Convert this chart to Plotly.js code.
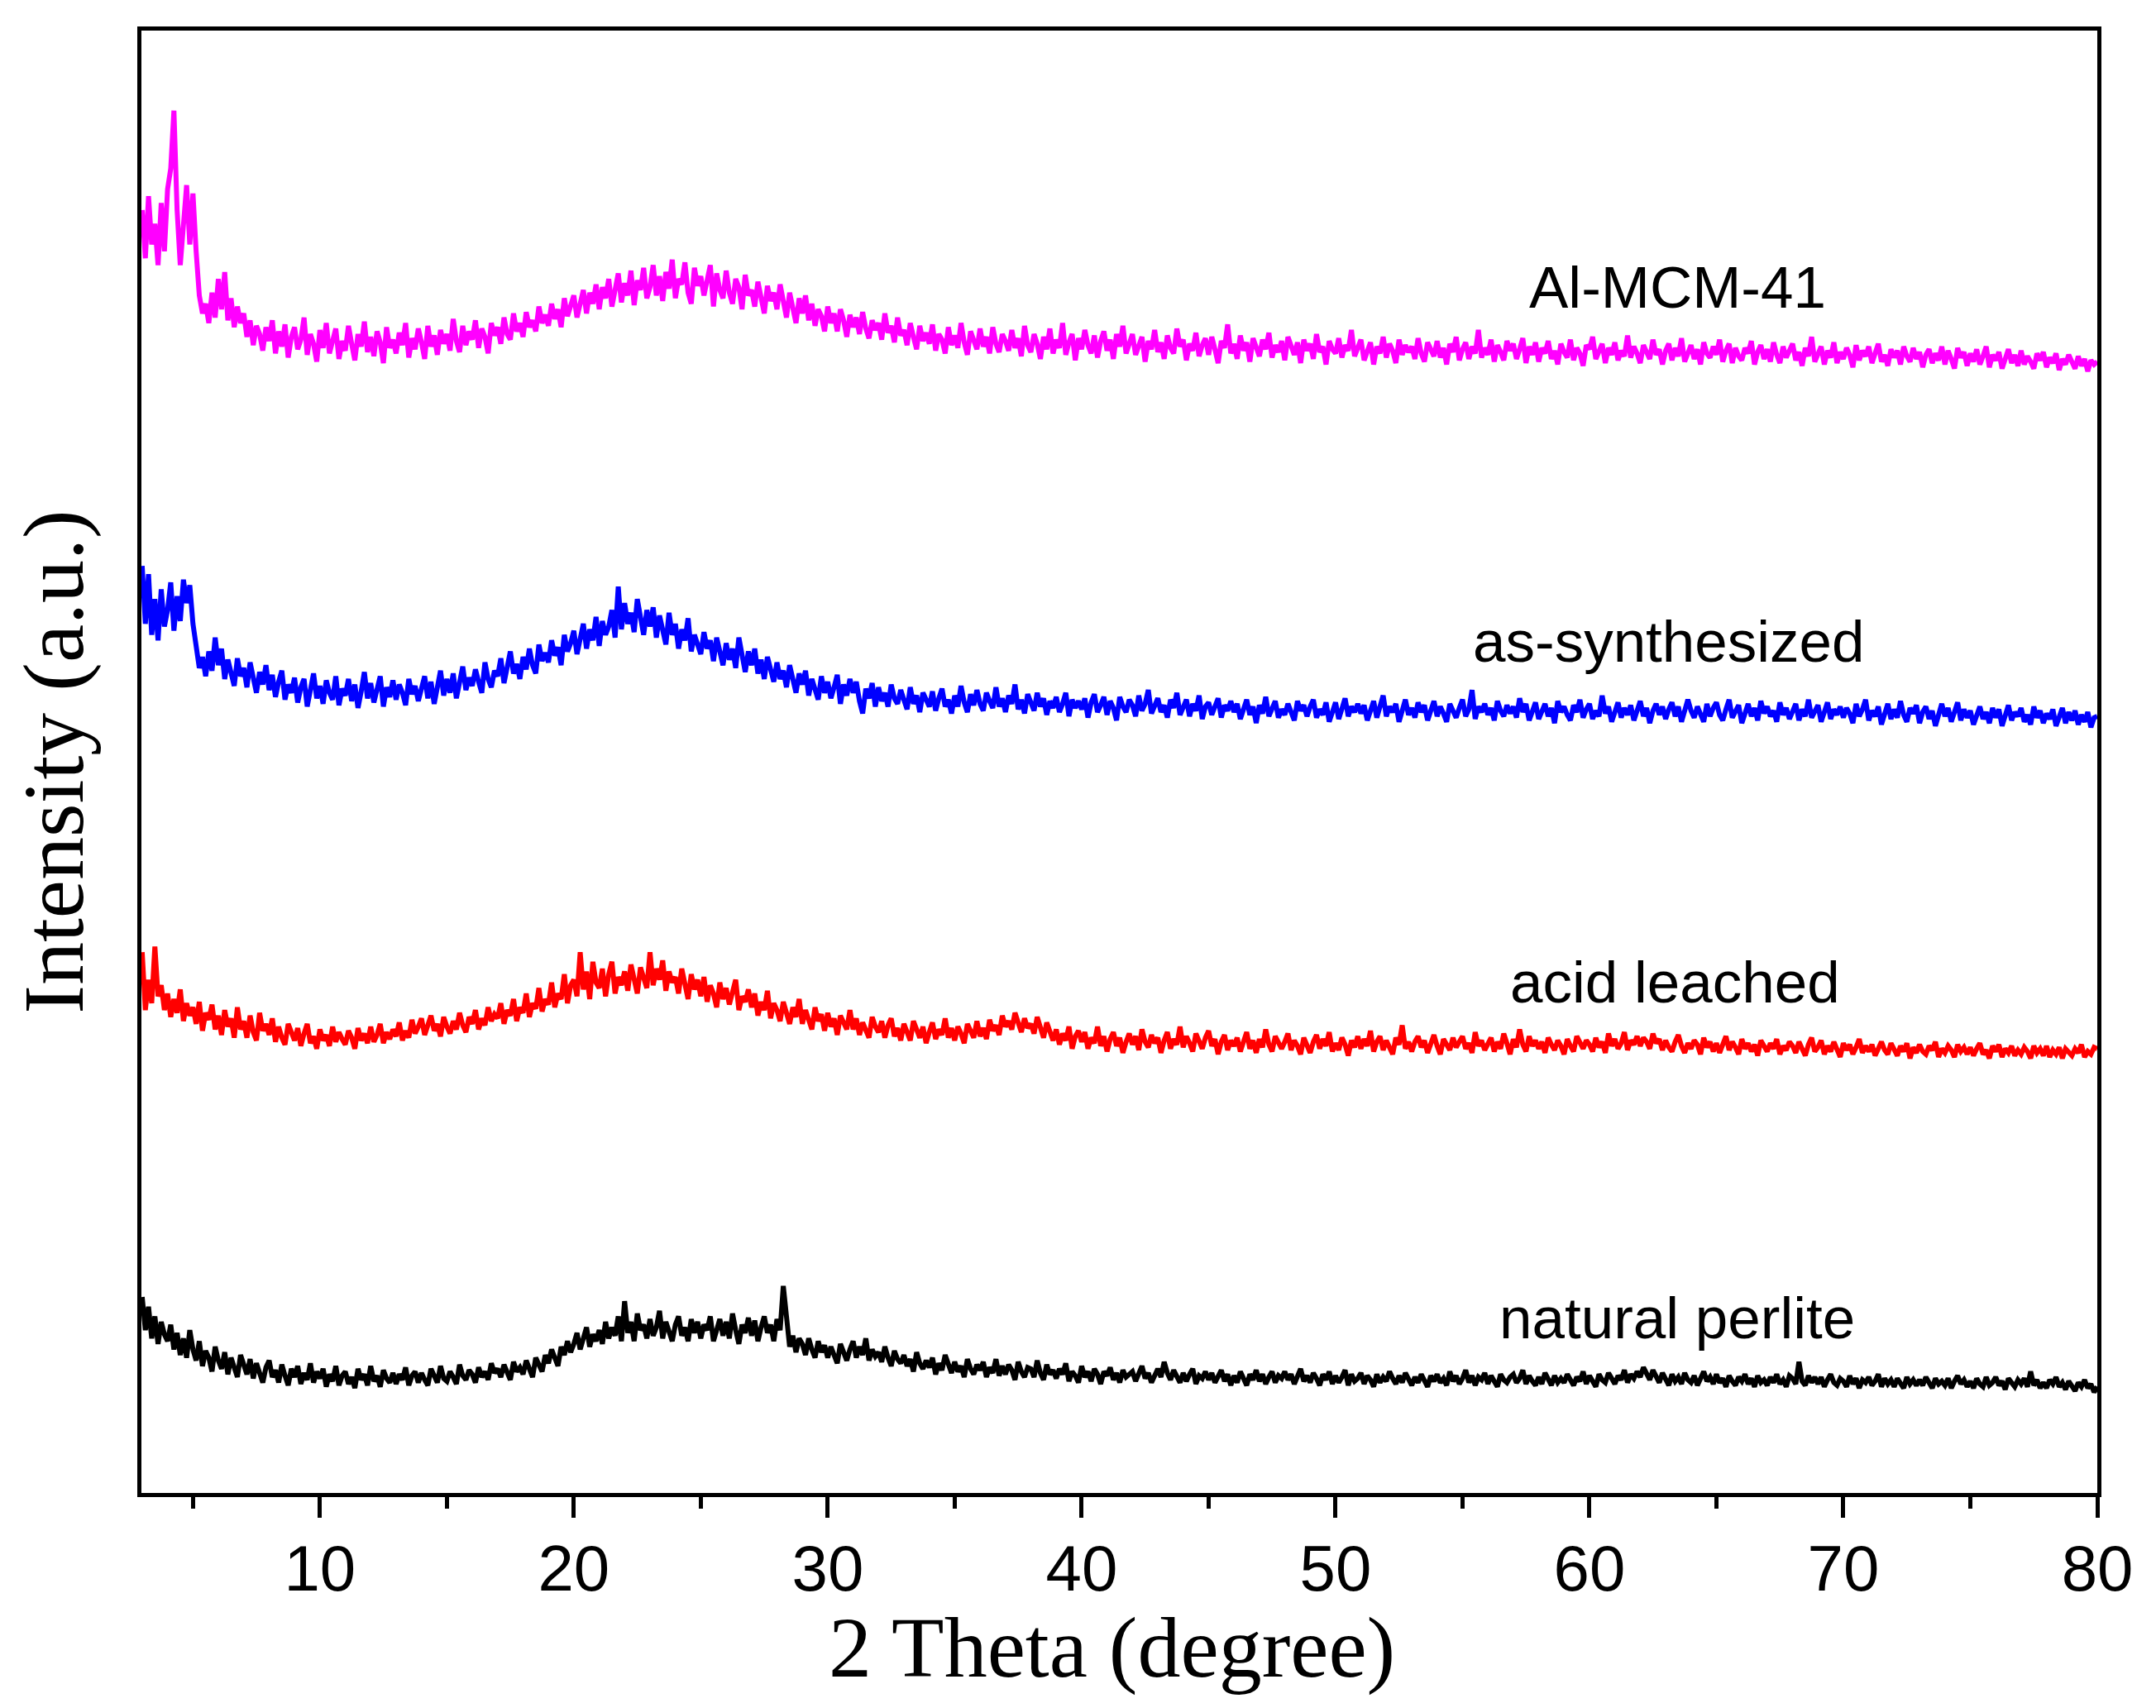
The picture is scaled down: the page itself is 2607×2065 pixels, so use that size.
<!DOCTYPE html>
<html>
<head>
<meta charset="utf-8">
<script src="https://cdn.plot.ly/plotly-3.0.1.min.js"></script>
<style>html,body{margin:0;padding:0;background:#fff;}#chart{width:2607px;height:2065px;}</style>
</head>
<body>
<div id="chart"></div>
<script>
// 2 Theta sampling grid (degree): one value every 0.125 degree from 3 to 80
const twoThetaStart = 3;
const twoThetaStep = 0.125;

// Intensities (a.u., stacked as in the figure); each line = one degree (8 samples)
const alMCM41 = [
930,895,940,905,920,890,935,900,
945,960,1002,930,890,915,948,905,
942,900,868,855,862,848,870,852,
880,858,885,850,866,845,860,848,
855,838,850,832,846,840,828,845,
835,850,826,842,831,847,823,838,
845,829,836,852,825,840,833,820,
843,830,848,826,837,844,822,835,
828,846,833,821,840,831,849,827,
838,824,842,834,819,845,830,836,
826,841,832,848,823,837,829,844,
834,822,846,831,839,825,843,833,
840,828,851,835,827,846,832,842,
836,850,830,844,838,826,848,839,
845,833,852,840,836,855,842,848,
838,856,845,850,842,860,848,854,
846,862,851,858,845,866,853,860,
868,852,864,872,855,870,862,876,
858,874,866,880,860,871,884,863,
877,868,886,861,879,872,888,866,
874,890,868,882,864,885,873,894,
866,880,876,892,870,862,888,875,
882,868,878,890,860,884,872,866,
886,870,862,880,874,858,883,868,
872,860,878,866,855,875,864,870,
858,876,862,852,870,860,848,866,
855,868,850,862,846,858,853,842,
860,848,855,842,858,850,838,854,
845,852,840,856,844,837,850,843,
848,836,855,841,846,834,852,839,
843,832,848,838,829,846,835,841,
833,847,828,840,836,826,845,832,
839,830,848,834,825,842,836,829,
844,831,838,826,845,833,827,840,
835,828,843,830,837,824,846,832,
827,840,833,822,838,829,844,826,
836,830,848,825,834,840,821,837,
829,843,832,826,839,823,835,842,
828,836,822,840,831,846,826,834,
840,825,833,838,820,835,829,843,
827,834,822,839,830,826,844,831,
836,821,833,828,841,824,832,837,
825,838,829,819,835,830,847,826,
833,822,839,828,834,820,837,830,
824,836,829,841,823,832,827,835,
821,838,830,825,834,819,836,828,
833,822,840,827,831,818,835,829,
826,837,823,832,828,843,824,830,
836,821,829,834,818,831,826,838,
823,833,828,819,836,825,832,827,
831,822,837,826,820,834,829,824,
835,823,830,818,833,827,838,821,
829,834,822,831,826,843,823,830,
825,836,820,832,827,821,835,828,
833,822,829,837,819,831,825,834,
820,830,826,835,822,828,818,833,
827,823,836,821,830,826,817,832,
829,838,822,827,833,819,830,825,
834,821,828,824,839,823,831,826,
819,832,827,822,836,825,829,818,
828,833,821,830,824,837,820,827,
832,822,829,818,834,826,823,831,
825,836,820,828,833,819,830,824,
821,830,826,835,818,827,832,822,
829,820,834,825,819,831,823,828,
833,821,827,817,830,824,838,820,
826,831,818,828,823,834,819,827,
822,830,825,816,832,821,828,824,
831,819,826,833,820,825,817,829,
823,828,818,831,824,820,830,822,
827,816,825,829,819,826,821,831,
818,828,822,815,830,823,827,817,
826,820,829,818,824,831,816,825,
821,827,815,823,829,819,825,817,
828,818,824,820,815,826,821,827,
816,823,819,826,814,822,818,825,
820,815,824,817,822,813,821,818,
820];

const asSynthesized = [
672,630,666,622,648,618,655,628,
640,660,625,650,632,662,645,658,
630,612,598,606,592,610,596,620,
600,612,590,604,596,585,605,592,
598,584,602,590,580,595,586,600,
582,593,577,588,596,575,586,580,
591,573,584,590,570,582,594,576,
585,572,589,580,575,592,571,583,
578,590,574,586,569,581,595,576,
587,573,582,592,570,584,577,589,
575,586,580,571,590,579,585,574,
583,592,576,588,572,585,596,578,
590,580,594,576,588,599,582,591,
585,597,588,580,602,590,584,596,
592,605,587,598,610,594,601,590,
606,597,612,600,594,615,603,609,
602,618,607,613,600,622,610,616,
625,608,620,630,612,626,618,635,
614,632,622,628,640,620,657,626,
645,630,638,624,648,634,622,640,
628,642,620,636,625,615,638,622,
630,612,626,618,634,610,622,616,
608,624,612,618,603,620,610,600,
616,604,612,598,620,606,595,610,
600,612,594,604,590,606,598,588,
602,590,596,584,600,588,580,594,
586,596,578,590,583,575,592,580,
588,576,584,593,572,586,578,590,
580,588,574,565,583,576,587,570,
584,574,580,570,586,576,572,582,
575,568,584,572,578,566,580,574,
570,581,567,576,583,570,575,565,
578,570,585,573,566,579,571,582,
572,567,580,574,569,584,570,576,
566,578,572,586,568,575,565,579,
573,567,580,570,576,564,574,569,
577,566,572,580,563,575,569,574,
568,576,562,573,579,566,571,577,
564,574,569,560,577,570,566,575,
571,563,578,567,572,582,565,570,
576,566,571,562,575,569,580,564,
569,575,563,572,567,578,561,570,
573,564,570,576,562,571,567,574,
566,572,561,569,575,564,570,558,
571,565,577,563,569,574,562,568,
564,572,566,560,574,567,571,563,
570,575,562,568,564,573,559,567,
573,561,568,576,563,570,566,572,
565,571,560,567,574,562,569,578,
563,570,566,572,559,568,575,564,
569,562,573,566,571,560,567,574,
563,570,565,559,572,567,562,569,
575,563,568,582,561,570,566,572,
564,569,560,574,567,563,571,565,
570,562,576,566,572,560,568,573,
561,567,572,563,569,558,574,566,
570,564,560,571,566,575,562,568,
572,561,567,563,578,565,570,559,
566,573,562,569,564,571,560,568,
574,563,569,558,567,572,564,570,
561,568,573,563,570,559,566,575,
567,562,570,565,559,572,563,569,
573,564,560,568,575,562,567,571,
558,566,572,563,569,560,574,565,
570,563,567,559,573,564,569,561,
566,572,560,568,563,575,562,567,
571,559,566,573,561,568,564,570,
562,569,565,558,572,563,568,575,
560,567,563,570,557,566,572,561,
568,562,574,564,559,569,565,571,
558,566,570,561,567,556,565,572,
563,569,559,566,573,560,568,562,
567,557,564,570,561,566,558,569,
562,568,556,565,571,560,566,563,
569,559,564,557,570,562,567,558,
565,561,568,556,563,569,558,566,
560,567,557,564,559,566,555,562,
563];

const acidLeached = [
392,350,372,355,396,360,368,350,
362,345,358,348,365,342,355,346,
352,340,356,335,348,343,354,336,
346,332,350,338,344,330,352,336,
342,330,346,334,328,348,335,340,
332,344,327,338,330,325,340,333,
328,337,324,333,340,326,331,322,
336,328,332,324,338,327,334,329,
325,335,330,322,337,328,333,326,
338,327,332,340,326,334,329,336,
331,341,328,335,330,343,333,338,
344,332,338,346,335,340,331,345,
338,333,342,336,348,339,334,345,
340,350,336,344,339,352,342,347,
344,355,340,350,346,358,342,352,
348,362,345,355,351,366,349,358,
354,370,352,362,358,376,355,368,
372,360,392,365,378,358,385,370,
366,380,360,376,385,362,374,368,
378,364,383,370,362,381,372,366,
392,368,380,372,386,364,378,370,
374,362,380,368,358,376,365,372,
360,374,356,368,362,352,370,358,
366,354,362,372,350,360,356,365,
352,362,346,356,350,364,344,355,
350,342,356,346,340,352,345,358,
340,350,344,336,352,342,347,335,
348,338,344,332,346,340,336,350,
336,344,332,341,335,330,345,338,
334,342,330,339,344,331,337,328,
340,333,328,342,335,330,338,326,
334,341,329,336,332,344,330,337,
328,338,333,326,340,334,330,342,
331,337,329,343,335,339,332,346,
338,342,336,348,340,334,344,337,
340,333,345,336,330,341,334,328,
336,325,333,328,338,322,331,335,
327,334,322,330,326,338,324,331,
320,329,334,324,330,319,327,333,
325,331,321,336,327,323,332,326,
330,319,328,334,322,329,325,338,
323,331,326,320,333,327,322,330,
335,324,329,318,327,332,321,328,
324,330,320,327,334,322,328,319,
329,323,336,325,320,331,326,322,
327,333,321,328,324,318,330,325,
319,327,332,322,329,324,334,320,
326,321,330,325,317,328,323,331,
322,329,324,335,320,327,331,321,
328,323,318,330,325,339,322,327,
320,327,331,323,328,319,326,332,
324,318,329,325,321,330,323,327,
331,322,326,319,334,324,328,321,
325,330,320,327,322,333,326,318,
329,323,336,325,320,331,324,328,
322,327,319,330,325,321,328,324,
318,329,324,320,331,326,322,328,
325,320,330,323,327,319,333,324,
329,322,326,334,321,328,325,331,
324,330,327,322,333,326,329,321,
328,323,320,327,332,324,319,326,
322,328,325,318,330,323,327,320,
326,319,324,331,321,327,323,318,
329,322,326,320,325,317,328,323,
320,326,322,329,318,324,321,327,
324,319,327,322,317,325,330,320,
323,328,318,324,320,327,322,316,
326,321,325,318,323,329,319,324,
320,325,317,323,327,321,318,326,
322,317,324,320,326,315,323,319,
325,320,318,324,321,327,316,322,
319,324,321,316,325,320,323,318,
323,317,322,326,318,321,315,324,
320,325,316,322,319,324,317,321,
318,323,320,315,324,319,322,317,
324,316,321,318,323,315,322,319,
317,322,319,325,316,320,318,323,
322];

const naturalPerlite = [
142,118,135,112,128,108,124,115,
110,122,104,116,100,112,98,118,
104,96,110,92,103,98,88,106,
96,90,102,86,98,92,84,100,
92,86,97,83,94,88,80,91,
96,84,89,80,93,85,78,90,
84,92,79,87,82,94,80,88,
83,90,77,86,81,92,78,85,
88,79,84,76,90,82,86,78,
92,81,85,77,89,83,80,87,
79,86,82,91,78,85,88,80,
87,82,78,90,84,80,92,83,
81,88,84,79,93,85,82,89,
86,80,91,84,88,82,94,87,
90,84,93,87,82,95,88,91,
86,96,90,84,98,92,88,100,
94,104,98,92,106,100,110,102,
108,116,104,112,120,106,115,110,
118,108,124,112,120,114,128,110,
139,116,124,110,130,118,122,112,
126,114,120,132,112,124,118,110,
122,128,114,120,110,126,116,124,
112,122,118,128,110,120,126,114,
124,112,130,118,108,122,116,127,
114,125,110,120,128,116,122,110,
126,118,150,128,106,114,102,112,
108,100,112,104,98,110,102,107,
98,106,100,94,108,101,96,104,
110,98,106,100,112,96,104,99,
102,95,106,98,92,103,97,94,
100,92,97,88,102,94,90,96,
91,98,86,94,89,100,92,87,
95,88,92,84,97,90,86,93,
89,95,84,91,87,97,85,92,
86,93,89,82,95,88,84,91,
90,84,96,87,82,93,86,89,
83,90,86,94,81,88,85,80,
92,84,88,81,90,86,79,88,
85,91,82,87,80,89,84,86,
88,81,86,92,83,87,80,85,
90,84,95,87,82,89,85,80,
87,81,86,90,79,85,83,88,
82,87,80,85,89,81,86,78,
85,80,88,83,78,86,82,89,
81,86,79,84,88,80,85,83,
88,82,86,79,84,90,81,85,
80,87,83,78,86,82,88,79,
85,80,84,89,78,86,81,83,
87,79,85,82,77,86,80,84,
81,88,83,79,85,80,87,82,
78,84,80,86,82,77,85,81,
86,80,83,78,88,81,85,79,
83,89,80,85,78,84,82,87,
79,85,81,77,86,82,80,84,
86,80,83,89,79,85,81,78,
84,79,87,82,78,85,80,83,
80,86,82,78,84,81,88,79,
85,81,77,86,82,80,87,83,
79,85,82,89,80,86,83,88,
84,91,86,82,89,84,80,87,
82,78,86,81,84,79,87,82,
80,85,78,83,88,81,84,79,
86,80,83,77,85,81,78,84,
81,86,79,83,77,85,80,82,
78,84,80,86,79,82,77,85,
83,79,95,81,78,85,80,84,
79,84,77,82,86,80,78,83,
81,77,85,79,83,76,82,80,
84,78,81,86,77,83,79,82,
77,83,80,76,84,79,82,78,
82,78,84,80,76,83,79,81,
78,83,76,81,85,79,82,77,
81,76,83,79,77,84,78,80,
84,78,81,75,83,80,77,82,
79,83,77,88,78,82,76,80,
76,82,79,84,77,80,75,81,
78,74,80,77,82,76,79,73,
77];

const seriesNames = ["natural perlite", "acid leached", "as-synthesized", "Al-MCM-41"];
const seriesColors = ["#000000", "#FF0000", "#0000FF", "#FF00FF"];
const seriesValues = [naturalPerlite, acidLeached, asSynthesized, alMCM41];

// label anchor positions (2 Theta, intensity)
const labelX = [63.46, 63.36, 63.14, 63.46];
const labelY = [127, 370, 617, 874];

const xTickVals = [10, 20, 30, 40, 50, 60, 70, 80];
const xTickText = ["10", "20", "30", "40", "50", "60", "70", "80"];
const xMinorVals = [5, 15, 25, 35, 45, 55, 65, 75];

function grid(n) {
  const xs = [];
  for (let i = 0; i < n; i++) xs.push(twoThetaStart + i * twoThetaStep);
  return xs;
}

const traces = seriesValues.map((vals, k) => ({
  type: "scatter",
  mode: "lines",
  x: grid(vals.length),
  y: vals,
  name: seriesNames[k],
  line: {color: seriesColors[k], width: 6},
  hoverinfo: "skip"
}));

const annotations = seriesNames.map((nm, k) => ({
  x: labelX[k], y: labelY[k], xref: "x", yref: "y",
  text: nm, showarrow: false,
  xanchor: "center", yanchor: "middle",
  font: {family: "Liberation Sans, Arial, sans-serif", size: 71, color: "#000"}
}));

annotations.push({
  x: 0.496, y: -0.106, xref: "paper", yref: "paper",
  text: "2 Theta (degree)", showarrow: false,
  xanchor: "center", yanchor: "middle",
  font: {family: "Liberation Serif, Times New Roman, serif", size: 104, color: "#000"}
});

const layout = {
  width: 2607,
  height: 2065,
  margin: {l: 171, r: 71, t: 37, b: 260},
  paper_bgcolor: "#ffffff",
  plot_bgcolor: "#ffffff",
  showlegend: false,
  xaxis: {
    range: [2.97, 80],
    tickmode: "array",
    tickvals: xTickVals,
    ticktext: xTickText,
    ticks: "outside",
    ticklen: 25,
    tickwidth: 5,
    tickcolor: "#000",
    ticklabelstandoff: -6,
    minor: {tickmode: "array", tickvals: xMinorVals, ticks: "outside", ticklen: 14, tickwidth: 5, tickcolor: "#000"},
    showline: true, linewidth: 5, linecolor: "#000", mirror: true,
    showgrid: false, zeroline: false,
    tickfont: {family: "Liberation Sans, Arial, sans-serif", size: 78, color: "#000"}
  },
  yaxis: {
    range: [0, 1060],
    showticklabels: false,
    ticks: "",
    showline: true, linewidth: 5, linecolor: "#000", mirror: true,
    showgrid: false, zeroline: false,
    title: {text: "Intensity (a.u.)", font: {family: "Liberation Serif, Times New Roman, serif", size: 104, color: "#000"}, standoff: 32}
  },
  annotations: annotations
};

Plotly.newPlot("chart", traces, layout, {staticPlot: true, displayModeBar: false});
</script>
</body>
</html>
